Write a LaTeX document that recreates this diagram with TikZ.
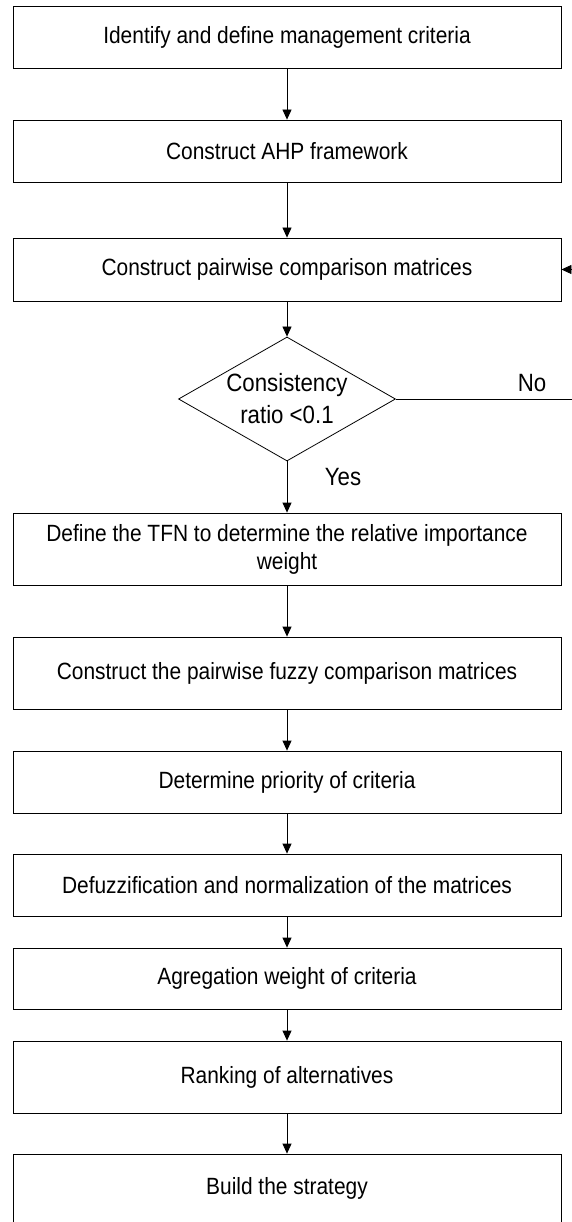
\documentclass[tikz,border=0pt]{standalone}
\usepackage{fontspec}
\setmainfont{Liberation Sans}[FakeStretch=0.89]
\usetikzlibrary{shapes.geometric,arrows.meta}
\begin{document}
\begin{tikzpicture}[x=1pt,y=-1pt,
  stepbox/.style={draw=black,line width=0.8pt,minimum width=548pt,inner sep=0pt,align=center,font=\fontsize{23.5}{28}\selectfont},
  decision/.style={draw=black,line width=0.8pt,shape=diamond,minimum width=217pt,minimum height=124pt,inner sep=0pt},
  dtext/.style={inner sep=0pt,align=center,font=\fontsize{25}{32}\selectfont},
  flow/.style={draw=black,line width=0.8pt,-{Triangle[length=10pt,width=9pt]}},
  lbl/.style={font=\fontsize{25}{28}\selectfont,inner sep=0pt}]
\useasboundingbox (0,0) rectangle (571,1222);
\node[stepbox,minimum height=62pt] (b1) at (287,37) {Identify and define management criteria};
\node[stepbox,minimum height=62pt] (b2) at (287,151) {Construct AHP framework};
\node[stepbox,minimum height=63pt] (b3) at (287,269.5) {Construct pairwise comparison matrices};
\node[decision] (d) at (287,399) {};
\node[dtext] (dt) at (d.center) {Consistency\\ratio <0.1};
\node[stepbox,minimum height=72pt] (b4) at (287,549) {Define the TFN to determine the relative importance\\weight};
\node[stepbox,minimum height=72pt] (b5) at (287,673) {Construct the pairwise fuzzy comparison matrices};
\node[stepbox,minimum height=62pt] (b6) at (287,782) {Determine priority of criteria};
\node[stepbox,minimum height=62pt] (b7) at (287,885) {Defuzzification and normalization of the matrices};
\node[stepbox,minimum height=61pt] (b8) at (287,978.5) {Agregation weight of criteria};
\node[stepbox,minimum height=72pt] (b9) at (287,1077) {Ranking of alternatives};
\node[stepbox,minimum height=69pt] (b10) at (287,1188.5) {Build the strategy};
\coordinate (r1) at (576,399);
\coordinate (r2) at (576,269.5);
\draw[flow] (b1) -- (b2);
\draw[flow] (b2) -- (b3);
\draw[flow] (b3) -- (d);
\draw[flow] (d) -- (b4);
\draw[flow] (b4) -- (b5);
\draw[flow] (b5) -- (b6);
\draw[flow] (b6) -- (b7);
\draw[flow] (b7) -- (b8);
\draw[flow] (b8) -- (b9);
\draw[flow] (b9) -- (b10);
\draw[flow] (d.east) -- (r1) -- (r2) -- (b3.east);
\node[lbl] (no) at (532,383) {No};
\node[lbl] (yes) at (343,477) {Yes};
\end{tikzpicture}
\end{document}
